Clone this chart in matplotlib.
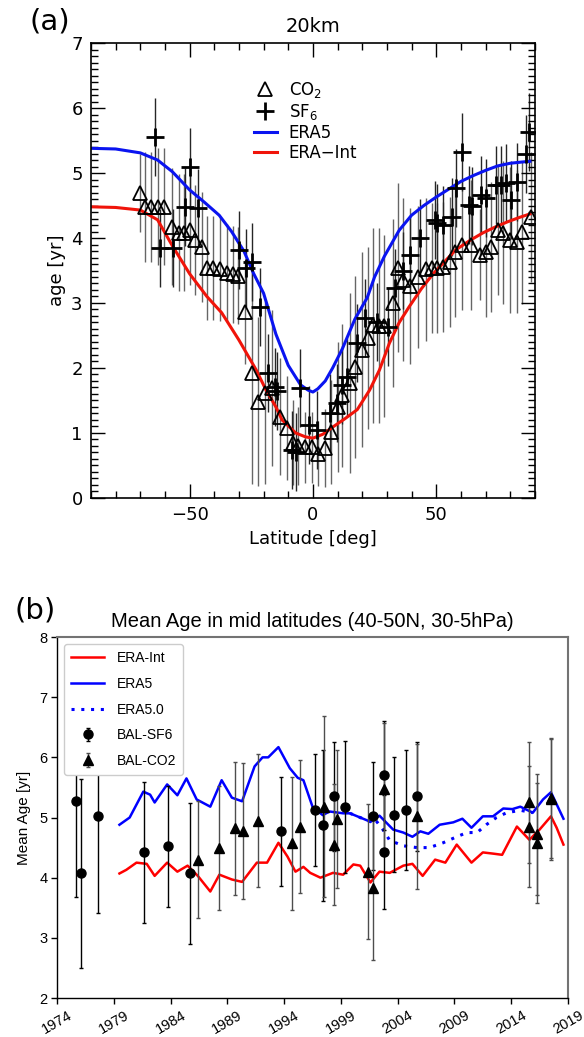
import numpy as np
import matplotlib
matplotlib.use("Agg")
import matplotlib.pyplot as plt
from matplotlib.ticker import MultipleLocator

# ── panel (a): mean age at 20 km vs latitude ────────────────────────────────
lat_era5 = [-90, -80, -70, -63, -57, -50, -44, -38, -33, -28, -24, -20, -15, -10, -5, -2, 0,
            2, 5, 8, 12, 17, 22, 25, 29, 35, 40, 45, 50, 55, 60, 65, 70, 75, 80, 85, 88]
age_era5 = [5.38, 5.37, 5.31, 5.2, 5.02, 4.74, 4.55, 4.35, 4.1, 3.8, 3.45, 3.15, 2.52, 2.04, 1.74, 1.66,
            1.63, 1.68, 1.8, 2.0, 2.3, 2.75, 3.08, 3.4, 3.72, 4.12, 4.35, 4.5, 4.63, 4.75, 4.87, 4.96,
            5.04, 5.11, 5.15, 5.17, 5.18]

lat_erai = [-90, -80, -70, -63, -57, -50, -43, -37, -30, -23, -19, -15, -12.5, -7, -3, 0,
            4, 8, 13, 18, 23, 27, 31, 35, 39, 44, 49, 54, 58, 64, 69, 74, 79, 84, 88]
age_erai = [4.48, 4.47, 4.43, 4.28, 3.88, 3.45, 3.1, 2.85, 2.43, 1.97, 1.66, 1.4, 1.2, 1.0, 0.94, 0.92,
            0.98, 1.09, 1.22, 1.36, 1.66, 1.97, 2.38, 2.7, 2.94, 3.22, 3.46, 3.66, 3.82, 3.97, 4.08,
            4.17, 4.25, 4.32, 4.37]

co2_lat = [-70.2, -68.2, -65.5, -63, -60.3, -57, -54.5, -52.4, -50, -47.7, -44.9, -43, -40.4, -37.7,
           -35, -32.6, -30.5, -27.5, -24.7, -22.2, -19.4, -16.6, -13.3, -10.6, -8.1, -6.1, -3.2, -0.4,
           2.2, 5, 7.5, 10, 12, 15, 17, 19.8, 22.4, 24.3, 27, 29, 32.3, 34.4, 36.5, 39.4, 42.5, 45.8,
           48.5, 50.5, 52.6, 55.4, 57.5, 60.3, 64.3, 67.6, 70.4, 72.4, 75, 77, 79.8, 82.6, 85, 88.6]
co2_age = [4.69, 4.48, 4.48, 4.48, 4.48, 4.17, 4.08, 4.08, 4.12, 3.97, 3.86, 3.54, 3.54, 3.52,
           3.46, 3.44, 3.42, 2.86, 1.92, 1.48, 1.62, 1.69, 1.25, 1.08, 0.85, 0.8, 0.78, 0.78,
           0.68, 0.77, 1.02, 1.4, 1.58, 1.77, 2.02, 2.28, 2.46, 2.66, 2.65, 2.65, 3.0, 3.54, 3.36,
           3.26, 3.4, 3.52, 3.54, 3.54, 3.55, 3.63, 3.78, 3.89, 3.89, 3.74, 3.78, 3.86, 4.12, 4.08,
           3.97, 3.94, 4.09, 4.32]
co2_err = [0.6, 0.85, 0.85, 0.9, 0.9, 0.9, 0.9, 0.9, 0.85, 0.85, 0.85, 0.8, 0.8, 0.8,
           0.75, 0.75, 0.75, 0.8, 1.7, 1.3, 1.4, 1.2, 0.9, 0.8, 0.65, 0.6, 0.55, 0.55,
           0.5, 0.6, 0.8, 1.0, 1.1, 1.38, 1.4, 1.5, 1.4, 1.5, 1.5, 1.4, 1.3, 1.3, 1.25,
           1.2, 1.1, 1.1, 1.0, 1.0, 1.0, 1.0, 1.0, 1.0, 1.0, 0.7, 1.0, 1.0, 1.0, 1.1,
           1.12, 1.1, 1.1, 1.0]

sf6_lat = [-64, -62, -56.8, -52, -50, -46.7, -30, -27.2, -24.5, -21.6, -18.3, -15.5, -14.5, -8.5,
           -7, -5.3, -1.5, 1.5, 7, 9.7, 11.7, 13.7, 17.7, 21, 25.9, 30.3, 33.2, 36.5, 39.4, 43.5,
           49.5, 50.5, 52.6, 56.6, 58.2, 60.6, 63.5, 64.5, 68.2, 70.2, 74.2, 76.2, 78.2, 80.2,
           82.7, 86.3, 87.5]
sf6_age = [5.56, 3.85, 3.85, 4.48, 5.09, 4.46, 3.82, 3.54, 3.63, 2.94, 1.92, 1.71, 1.65, 0.74,
           0.7, 1.69, 1.12, 1.05, 1.31, 1.46, 1.74, 1.86, 2.38, 2.77, 2.71, 2.63, 3.23, 3.5, 3.74, 4.0,
           4.28, 4.23, 4.2, 4.32, 4.77, 5.32, 4.51, 4.5, 4.66, 4.62, 4.82, 4.82, 4.85, 4.58,
           4.86, 5.3, 5.63]
sf6_err = 0.6

# ── panel (b): mean age time series, 40-50N ────────────────────────────────
yr_era5 = [1979.5, 1980.4, 1981.6, 1982.2, 1982.6, 1983.7, 1984.6, 1985.4, 1986.3, 1987.5, 1988.5,
           1989.4, 1990.3, 1991.4, 1992.1, 1992.6, 1993.5, 1994.5, 1995.2, 1995.7, 1996.5, 1997.4,
           1998.0, 1999.2, 1999.8, 2000.7, 2001.6, 2002.4, 2003.6, 2004.5, 2005.3, 2006.0, 2006.7,
           2007.7, 2008.9, 2009.7, 2010.5, 2011.5, 2012.4, 2013.3, 2014.1, 2014.8, 2015.9, 2016.8,
           2017.5, 2018.0, 2018.6]
ma_era5 = [4.88, 5.0, 5.43, 5.38, 5.25, 5.55, 5.37, 5.65, 5.3, 5.18, 5.62,
           5.33, 5.27, 5.85, 6.0, 6.0, 6.17, 5.82, 5.66, 5.62, 5.18, 5.04,
           5.1, 5.07, 5.07, 5.0, 4.93, 5.03, 4.8, 4.75, 4.68, 4.77, 4.73,
           4.88, 4.92, 4.98, 4.83, 5.02, 5.02, 5.15, 5.14, 5.18, 5.08, 5.3,
           5.42, 5.22, 4.98]

yr_era50 = [1999.8, 2000.7, 2001.6, 2002.0, 2002.7, 2003.3, 2004.5, 2005.7, 2006.8, 2008.0, 2009.2,
            2010.1, 2011.0, 2011.8, 2012.7, 2013.6, 2014.8, 2015.9]
ma_era50 = [5.07, 5.0, 4.93, 4.97, 4.8, 4.62, 4.53, 4.5, 4.5, 4.58, 4.68,
            4.75, 4.75, 4.88, 5.0, 5.08, 5.12, 5.08]

yr_erai = [1979.5, 1980.1, 1981.0, 1981.9, 1982.6, 1983.7, 1984.6, 1985.5, 1986.4, 1987.5, 1988.3,
           1989.4, 1990.3, 1991.6, 1992.5, 1993.5, 1994.3, 1995.0, 1995.7, 1996.3, 1997.2, 1998.3,
           1999.2, 2000.1, 2000.7, 2001.6, 2002.4, 2003.3, 2004.5, 2005.3, 2006.2, 2007.3, 2008.2,
           2009.2, 2010.5, 2011.5, 2012.4, 2013.2, 2014.5, 2015.6, 2016.5, 2017.5, 2018.0, 2018.6]
ma_erai = [4.07, 4.13, 4.25, 4.23, 4.03, 4.25, 4.1, 4.2, 4.03, 3.77, 4.05,
           3.97, 3.93, 4.25, 4.25, 4.58, 4.35, 4.1, 4.18, 4.08, 4.0, 4.08,
           4.05, 4.22, 4.2, 3.92, 4.1, 4.08, 4.2, 4.23, 4.03, 4.3, 4.25,
           4.55, 4.25, 4.42, 4.4, 4.38, 4.85, 4.63, 4.8, 5.02, 4.83, 4.55]

bal_sf6_yr = [1975.7, 1976.1, 1977.6, 1981.7, 1983.8, 1985.7, 1993.7, 1996.7, 1997.4, 1998.4, 1999.4,
              2001.8, 2002.8, 2002.8, 2003.7, 2004.7, 2005.7]
bal_sf6_ma = [5.27, 4.07, 5.02, 4.42, 4.52, 4.07, 4.77, 5.12, 4.87, 5.35, 5.17,
              5.03, 5.7, 4.43, 5.05, 5.12, 5.35]
bal_sf6_er = [1.59, 1.57, 1.6, 1.17, 1.0, 1.17, 0.9, 0.93, 1.25, 0.9, 1.1,
              0.9, 0.9, 0.95, 0.95, 1.0, 0.9]

bal_co2_yr = [1986.4, 1988.3, 1989.7, 1990.4, 1991.7, 1994.7, 1995.4, 1997.5, 1998.4, 1998.7, 2001.4,
              2001.8, 2002.8, 2005.7, 2015.6, 2015.6, 2016.3, 2016.3, 2017.5, 2017.5]
bal_co2_ma = [4.3, 4.5, 4.82, 4.77, 4.95, 4.57, 4.85, 5.18, 4.55, 4.98, 4.1,
              3.83, 5.47, 5.02, 5.25, 4.85, 4.72, 4.58, 5.33, 5.3]
bal_co2_er = [0.97, 1.03, 1.1, 1.13, 1.1, 1.1, 1.1, 1.5, 1.0, 1.15, 1.12,
              1.2, 1.1, 1.2, 1.0, 1.0, 1.0, 1.0, 1.0, 1.0]

year_ticks = list(range(1974, 2020, 5))


fig = plt.figure(figsize=(5.84, 10.37), dpi=100)

# ══ (a) ══════════════════════════════════════════════════════════════════════
ax1 = fig.add_axes([0.1558, 0.5198, 0.760, 0.4387])
ax1.errorbar(co2_lat, co2_age, yerr=co2_err, fmt="none", ecolor="0.4", elinewidth=1.0, zorder=1)
ax1.errorbar(sf6_lat, sf6_age, yerr=sf6_err, fmt="none", ecolor="0.15", elinewidth=1.0, zorder=1)
ax1.plot(co2_lat, co2_age, ls="none", marker="^", ms=10.5, mfc="none", mec="k", mew=1.3,
         label="CO$_2$", zorder=3)
ax1.plot(sf6_lat, sf6_age, ls="none", marker="+", ms=13, mec="k", mew=2.0,
         label="SF$_6$", zorder=3)
ax1.plot(lat_era5, age_era5, color="#0a14f0", lw=2.2, label="ERA5", zorder=2)
ax1.plot(lat_erai, age_erai, color="#f0140a", lw=2.2, label="ERA\u2212Int", zorder=2)

ax1.set_xlim(-90, 90)
ax1.set_ylim(0, 7)
ax1.xaxis.set_major_locator(MultipleLocator(50))
ax1.xaxis.set_minor_locator(MultipleLocator(10))
ax1.yaxis.set_major_locator(MultipleLocator(1))
ax1.yaxis.set_minor_locator(MultipleLocator(0.1))
ax1.tick_params(which="both", direction="in", top=True, right=True, width=1.0)
ax1.tick_params(which="major", length=10, labelsize=13, pad=6)
ax1.tick_params(which="minor", length=5)
for s in ax1.spines.values():
    s.set_linewidth(1.2)
ax1.set_xlabel("Latitude [deg]", fontsize=13, labelpad=4)
ax1.set_ylabel("age [yr]", fontsize=13, labelpad=4)
ax1.set_title("20km", fontsize=14, pad=8)
leg1 = ax1.legend(loc="upper left", bbox_to_anchor=(0.34, 0.945), frameon=False, fontsize=12,
                  handlelength=1.4, handletextpad=0.7, labelspacing=0.12, borderpad=0.2)
fig.text(0.086, 0.979, "(a)", fontsize=21, ha="center", va="center")

# ══ (b) ══════════════════════════════════════════════════════════════════════
ax2 = fig.add_axes([0.0976, 0.0376, 0.875, 0.3481])
ax2.plot(yr_erai, ma_erai, color="#ff0000", lw=1.8, label="ERA-Int", zorder=2)
ax2.plot(yr_era5, ma_era5, color="#0000ff", lw=1.8, label="ERA5", zorder=2)
ax2.plot(yr_era50, ma_era50, color="#0000ff", lw=2.2, ls=(0, (1, 2.2)), label="ERA5.0", zorder=2)
ax2.errorbar(bal_sf6_yr, bal_sf6_ma, yerr=bal_sf6_er, fmt="o", color="k", ms=6.5,
             ecolor="k", elinewidth=1.0, capsize=1.3, capthick=1.0, label="BAL-SF6", zorder=3)
ax2.errorbar(bal_co2_yr, bal_co2_ma, yerr=bal_co2_er, fmt="^", color="k", ms=7.5,
             ecolor="0.3", elinewidth=1.0, capsize=1.3, capthick=1.0, label="BAL-CO2", zorder=3)

ax2.set_xlim(1974, 2019)
ax2.set_ylim(2, 8)
ax2.set_xticks(year_ticks)
ax2.set_xticklabels([str(y) for y in year_ticks], rotation=30, fontsize=10.5,
                    family="Liberation Sans")
ax2.set_yticks(range(2, 9))
ax2.set_yticklabels([str(v) for v in range(2, 9)], fontsize=10.5, family="Liberation Sans")
ax2.tick_params(direction="out", length=4, width=1.0, pad=3)
for side in ["top", "right"]:
    ax2.spines[side].set_color("0.45")
    ax2.spines[side].set_linewidth(1.5)
for side in ["left", "bottom"]:
    ax2.spines[side].set_linewidth(1.0)
ax2.set_ylabel("Mean Age [yr]", fontsize=11, family="Liberation Sans", labelpad=6)
ax2.set_title("Mean Age in mid latitudes (40-50N, 30-5hPa)", fontsize=14.5,
              family="Liberation Sans", pad=7)
leg2 = ax2.legend(loc="upper left", prop={"family": "Liberation Sans", "size": 10},
                  handlelength=2.4, handletextpad=0.9, labelspacing=0.85, borderpad=0.5,
                  framealpha=1.0, edgecolor="0.8")
fig.text(0.06, 0.411, "(b)", fontsize=21, ha="center", va="center")

fig.savefig("out.png", dpi=100)
